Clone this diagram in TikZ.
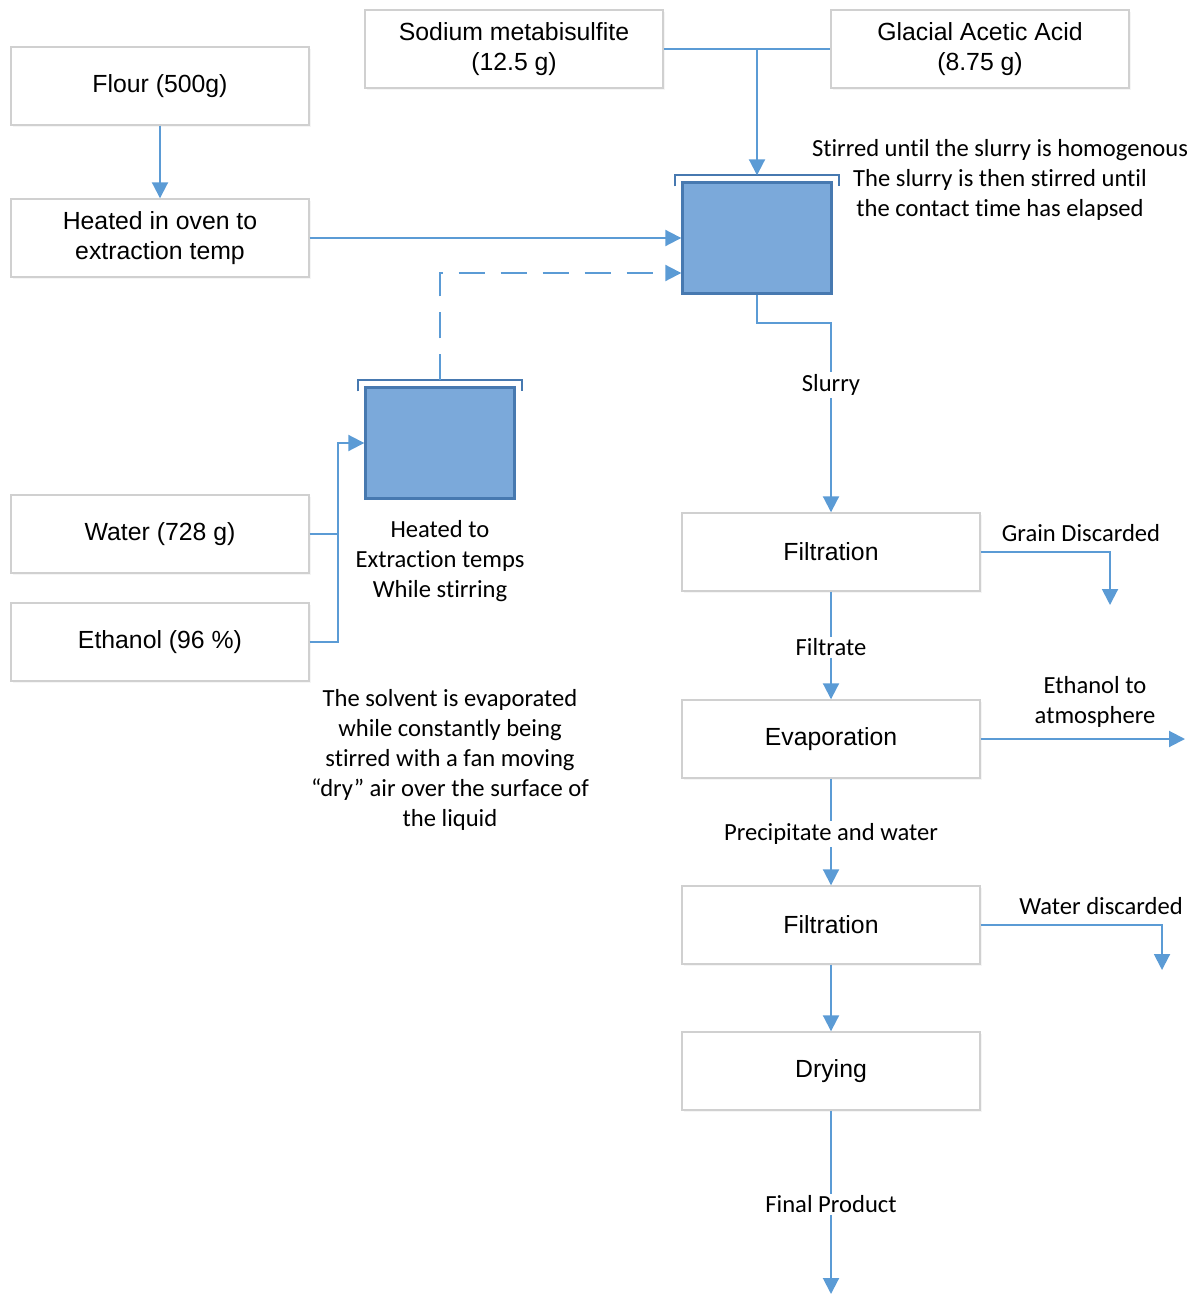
\documentclass[tikz,border=0pt]{standalone}
\usepackage{fontspec}
\setmainfont{Carlito}[Ligatures=NoCommon]
\newfontfamily\boxfont{Liberation Sans}
\usetikzlibrary{calc,arrows.meta,shadows}
\definecolor{flow}{HTML}{5B9BD5}
\definecolor{tankfill}{HTML}{7BA9DA}
\definecolor{tankline}{HTML}{4779B0}
\definecolor{boxline}{HTML}{D0D0D0}

\begin{document}
\begin{tikzpicture}[x=0.5pt,y=-0.5pt]
\tikzstyle{block}=[draw=boxline,line width=0.7pt,fill=white,minimum width=149pt,minimum height=39pt,inner sep=0pt,align=center,font=\boxfont\fontsize{12.4}{15}\selectfont,drop shadow={shadow xshift=0.8pt,shadow yshift=-0.8pt,opacity=0.08}]

\tikzstyle{tank}=[draw=tankline,line width=1.2pt,fill=tankfill,minimum width=74.5pt,minimum height=55.5pt,inner sep=0pt]

\tikzstyle{bracket}=[draw=tankline,line width=1.1pt]
\tikzstyle{flowline}=[draw=flow,line width=1pt]
\tikzstyle{arrow}=[flowline,-{Triangle[length=8pt,width=8pt]}]
\tikzstyle{lbl}=[fill=white,inner sep=1pt,font=\fontsize{12.3}{15}\selectfont]
\tikzstyle{note}=[align=center,inner sep=0pt,font=\fontsize{12.3}{15}\selectfont]

\useasboundingbox (0,0) rectangle (1201,1294);

% inputs
\node (F) [block] at (160,86) {Flour (500g)};
\node (H) [block] at (160,238) {Heated in oven to\\extraction temp};
\node (S) [block] at (514,49) {Sodium metabisulfite\\(12.5 g)};
\node (G) [block] at (980,49) {Glacial Acetic Acid\\(8.75 g)};
\node (W) [block] at (160,534) {Water (728 g)};
\node (E) [block] at (160,642) {Ethanol (96 \%)};

% vessels
\node (M) [tank] at (757,238) {};
\node (T) [tank] at (440,443) {};
\draw [bracket] ($(M.north west)+(-6,5)$) |- ($(M.north)+(0,-6)$) coordinate (Mtop) -| ($(M.north east)+(6,5)$);
\draw [bracket] ($(T.north west)+(-6,5)$) |- ($(T.north)+(0,-6)$) coordinate (Ttop) -| ($(T.north east)+(6,5)$);

% process steps
\node (F1) [block] at (831,552) {Filtration};
\node (EV) [block] at (831,739) {Evaporation};
\node (F2) [block] at (831,925) {Filtration};
\node (D) [block] at (831,1071) {Drying};

\coordinate (Min2) at ($(M.west)+(0,35)$);
\coordinate (grain) at (1110,605);
\coordinate (atm) at (1185,739);
\coordinate (waste) at (1162,970);
\coordinate (out) at (831,1294);

% connectors
\draw [flowline] (S.east) -- (G.west);
\draw [arrow] (S.east -| Mtop) -- (Mtop);
\draw [arrow] (F) -- (H);
\draw [arrow] (H.east) -- (M.west);
\draw [arrow,dash pattern=on 13pt off 8pt] (Ttop) |- (Min2);
\draw [flowline] (W.east) -- ++(28,0);
\draw [arrow] (E.east) -- ++(28,0) |- (T.west);
\draw [arrow] (M.south) -- ++(0,28) -| (F1.north);
\draw [arrow] (F1) -- node (lfil) [lbl,yshift=-1pt] {Filtrate} (EV);
\draw [arrow] (EV) -- node (lpre) [lbl,yshift=-1pt] {Precipitate and water} (F2);
\draw [arrow] (F2) -- (D);
\draw [arrow] (D) -- node (lfin) [lbl,yshift=-1pt] {Final Product} (out);
\draw [arrow] (F1.east) -| (grain);
\draw [arrow] (EV.east) -- (atm);
\draw [arrow] (F2.east) -| (waste);

% labels
\node (lslu) [lbl] at (831,385) {Slurry};
\node (lgra) [note] at (1081,533) {Grain Discarded};
\node (leth) [note] at (1095,702) {Ethanol to\\atmosphere};
\node (lwat) [note] at (1101,906) {Water discarded};
\node (nmix) [note] at (1000,180) {Stirred until the slurry is homogenous\\The slurry is then stirred until\\the contact time has elapsed};
\node (nhot) [note] at (440,561) {Heated to\\Extraction temps\\While stirring};
\node (nevp) [note] at (450,760) {The solvent is evaporated\\while constantly being\\stirred with a fan moving\\“dry” air over the surface of\\the liquid};

\end{tikzpicture}
\end{document}
